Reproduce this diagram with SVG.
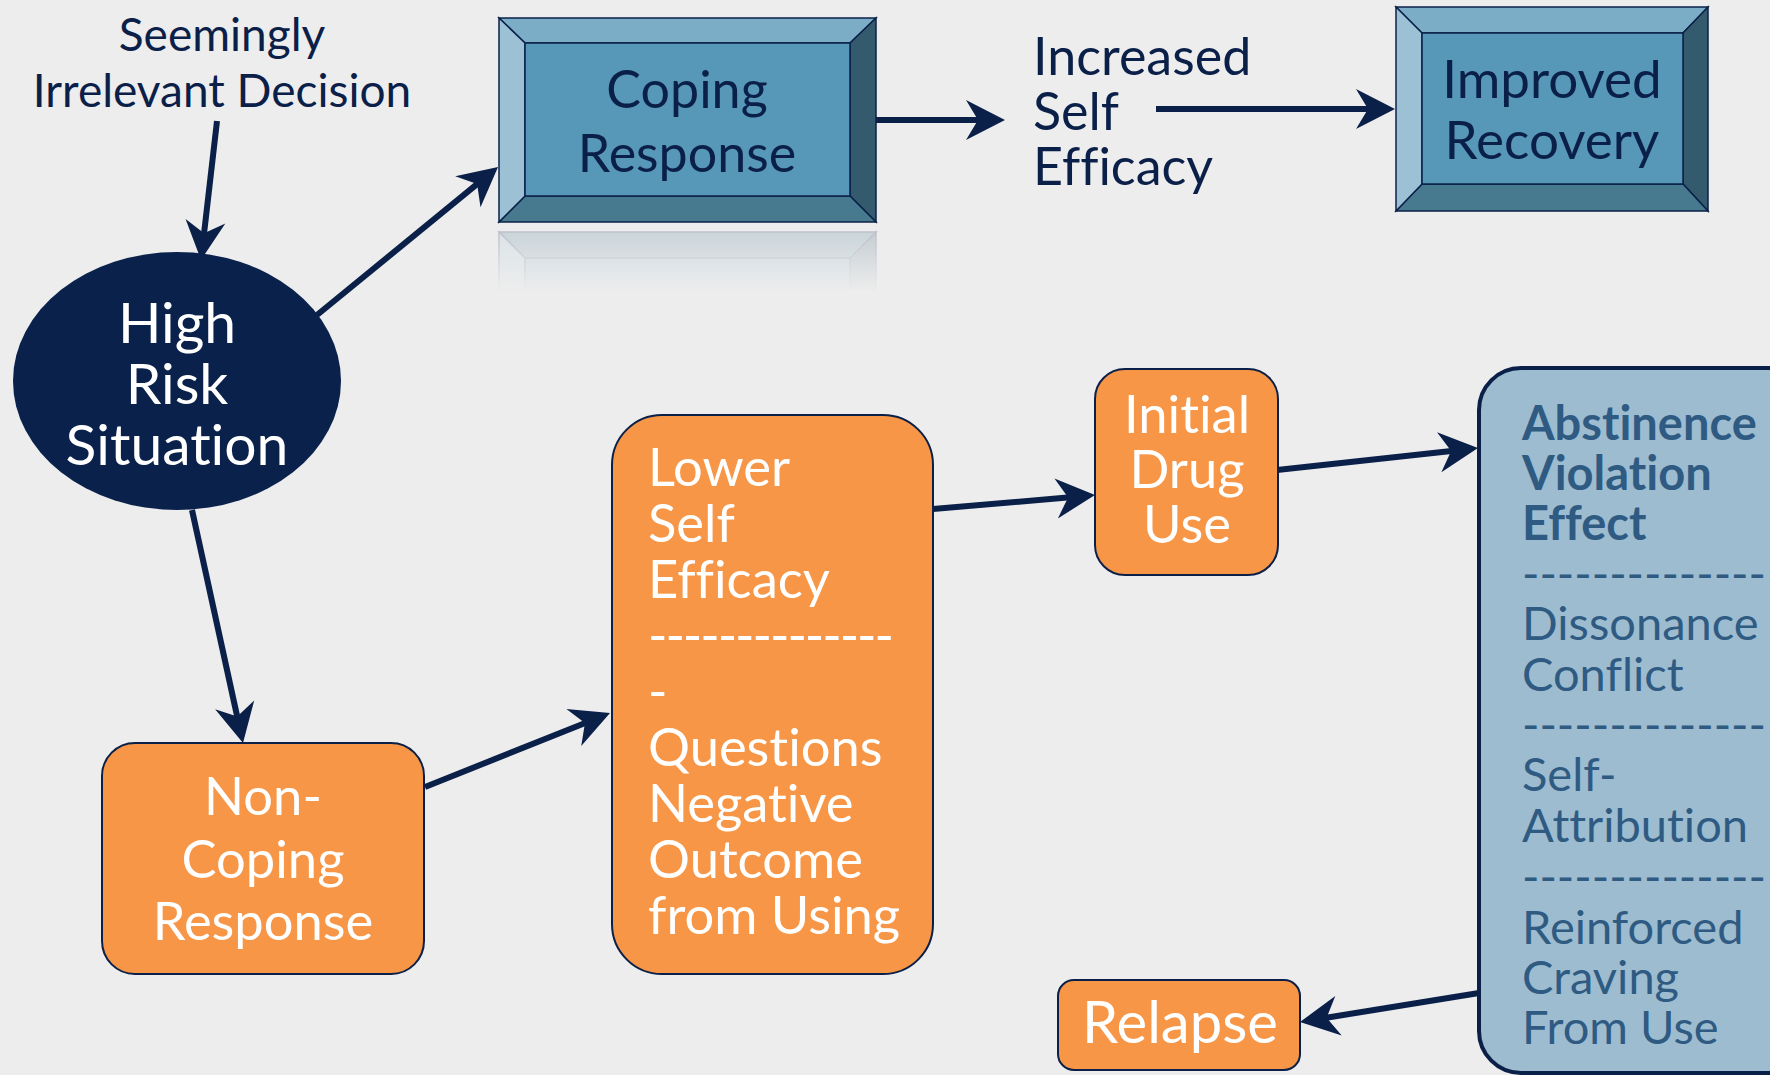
<svg xmlns="http://www.w3.org/2000/svg" xmlns:xlink="http://www.w3.org/1999/xlink" width="1770" height="1075" viewBox="0 0 1770 1075">
<defs>
<style>
text{font-family:Lato,"Liberation Sans",sans-serif;font-variant-ligatures:none}
.navy{fill:#0b2049}
.white{fill:#ffffff}
.orange{fill:#f79646;stroke:#0b2049;stroke-width:2}
.conn{stroke:#0b2049;stroke-width:6;fill:none;marker-end:url(#ah)}
.bt{fill:#7badc7}.bl{fill:#9cc1d5}.br{fill:#345a6e}.bb{fill:#47798f}.bc{fill:#5797b8}
.bev polygon,.bev rect{stroke:#0b2049;stroke-width:1.5;stroke-linejoin:miter}
.ave{fill:#2f5b83}
</style>
<marker id="ah" markerUnits="userSpaceOnUse" viewBox="-40 -21 41 42" refX="-22" refY="0" markerWidth="41" markerHeight="42" orient="auto">
<path d="M0,0 L-39,-20 L-27,0 L-39,20 Z" fill="#0b2049"/>
</marker>
<linearGradient id="fadeG" x1="0" y1="232" x2="0" y2="292" gradientUnits="userSpaceOnUse">
<stop offset="0" stop-color="#fff" stop-opacity="0.35"/>
<stop offset="1" stop-color="#fff" stop-opacity="0"/>
</linearGradient>
<mask id="fade" maskUnits="userSpaceOnUse" x="0" y="0" width="1770" height="1075">
<rect x="490" y="228" width="400" height="70" fill="url(#fadeG)"/>
</mask>
</defs>
<rect x="0" y="0" width="1770" height="1075" fill="#ededed"/>

<g id="connectors">
<line class="conn" x1="217" y1="121" x2="203.5" y2="238.1"/>
<line class="conn" x1="317" y1="315" x2="481" y2="180.9"/>
<line class="conn" x1="192" y1="510" x2="238.3" y2="721.5"/>
<line class="conn" x1="876" y1="120" x2="983" y2="120"/>
<line class="conn" x1="1156" y1="109" x2="1373" y2="109"/>
<line class="conn" x1="425" y1="787" x2="589.6" y2="721.2"/>
<line class="conn" x1="933" y1="509" x2="1073.1" y2="497"/>
<line class="conn" x1="1277" y1="470" x2="1456.1" y2="450.4"/>
<line class="conn" x1="1479" y1="993" x2="1321.7" y2="1018.5"/>
</g>

<g id="seemingly-irrelevant-decision">
<text class="navy" font-size="46" text-anchor="middle"><tspan x="222" y="51">Seemingly</tspan><tspan x="222" y="107">Irrelevant Decision</tspan></text>
</g>

<g id="high-risk-situation">
<ellipse cx="177" cy="381" rx="164" ry="129" fill="#0a214c"/>
<text class="white" font-size="57" text-anchor="middle"><tspan x="177" y="343">High</tspan><tspan x="177" y="404">Risk</tspan><tspan x="177" y="465">Situation</tspan></text>
</g>

<g id="coping-response">
<g class="bev" id="copingBev">
<polygon class="bt" points="499,18 876,18 850,43 525,43"/>
<polygon class="br" points="876,18 876,222 850,196 850,43"/>
<polygon class="bb" points="876,222 499,222 525,196 850,196"/>
<polygon class="bl" points="499,222 499,18 525,43 525,196"/>
<rect class="bc" x="525" y="43" width="325" height="153"/>
</g>
<g mask="url(#fade)" opacity="0.6">
<use xlink:href="#copingBev" transform="translate(0,454) scale(1,-1)"/>
</g>
<text class="navy" font-size="52" text-anchor="middle"><tspan x="687" y="108">Coping</tspan><tspan x="687" y="172">Response</tspan></text>
</g>

<g id="increased-self-efficacy">
<text class="navy" font-size="52"><tspan x="1033" y="75">Increased</tspan><tspan x="1033" y="130">Self</tspan><tspan x="1033" y="185">Efficacy</tspan></text>
</g>

<g id="improved-recovery">
<g class="bev">
<polygon class="bt" points="1396,7 1708,7 1683,33 1422,33"/>
<polygon class="br" points="1708,7 1708,211 1683,184 1683,33"/>
<polygon class="bb" points="1708,211 1396,211 1422,184 1683,184"/>
<polygon class="bl" points="1396,211 1396,7 1422,33 1422,184"/>
<rect class="bc" x="1422" y="33" width="261" height="151"/>
</g>
<text class="navy" font-size="53" text-anchor="middle"><tspan x="1552" y="98">Improved</tspan><tspan x="1552" y="159">Recovery</tspan></text>
</g>

<g id="non-coping-response">
<rect class="orange" x="102" y="743" width="322" height="231" rx="33"/>
<text class="white" font-size="52.5" text-anchor="middle"><tspan x="263" y="815">Non-</tspan><tspan x="263" y="878">Coping</tspan><tspan x="263" y="940">Response</tspan></text>
</g>

<g id="lower-self-efficacy">
<rect class="orange" x="612" y="415" width="321" height="559" rx="50"/>
<text class="white" font-size="52.5"><tspan x="648" y="486">Lower</tspan><tspan x="648" y="542">Self</tspan><tspan x="648" y="598">Efficacy</tspan><tspan x="648" y="654" textLength="246" lengthAdjust="spacing">--------------</tspan><tspan x="648" y="710">-</tspan><tspan x="648" y="766">Questions</tspan><tspan x="648" y="822">Negative</tspan><tspan x="648" y="878">Outcome</tspan><tspan x="648" y="934">from Using</tspan></text>
</g>

<g id="initial-drug-use">
<rect class="orange" x="1095" y="369" width="183" height="206" rx="30"/>
<text class="white" font-size="52.5" text-anchor="middle"><tspan x="1187" y="433">Initial</tspan><tspan x="1187" y="488">Drug</tspan><tspan x="1187" y="543">Use</tspan></text>
</g>

<g id="abstinence-violation-effect">
<rect x="1479" y="368" width="420" height="705" rx="42" fill="#9dbcd0" stroke="#0b2049" stroke-width="4"/>
<text class="ave" font-size="47"><tspan x="1522" y="440" font-weight="bold">Abstinence</tspan><tspan x="1522" y="490" font-weight="bold">Violation</tspan><tspan x="1522" y="540" font-weight="bold">Effect</tspan><tspan x="1522" y="590" textLength="244" lengthAdjust="spacing">--------------</tspan><tspan x="1522" y="640">Dissonance</tspan><tspan x="1522" y="691">Conflict</tspan><tspan x="1522" y="741" textLength="244" lengthAdjust="spacing">--------------</tspan><tspan x="1522" y="791">Self-</tspan><tspan x="1522" y="842">Attribution</tspan><tspan x="1522" y="893" textLength="244" lengthAdjust="spacing">--------------</tspan><tspan x="1522" y="944">Reinforced</tspan><tspan x="1522" y="994">Craving</tspan><tspan x="1522" y="1044">From Use</tspan></text>
</g>

<g id="relapse">
<rect class="orange" x="1058" y="980" width="242" height="90" rx="16"/>
<text class="white" font-size="58" text-anchor="middle" x="1180" y="1043">Relapse</text>
</g>
</svg>
